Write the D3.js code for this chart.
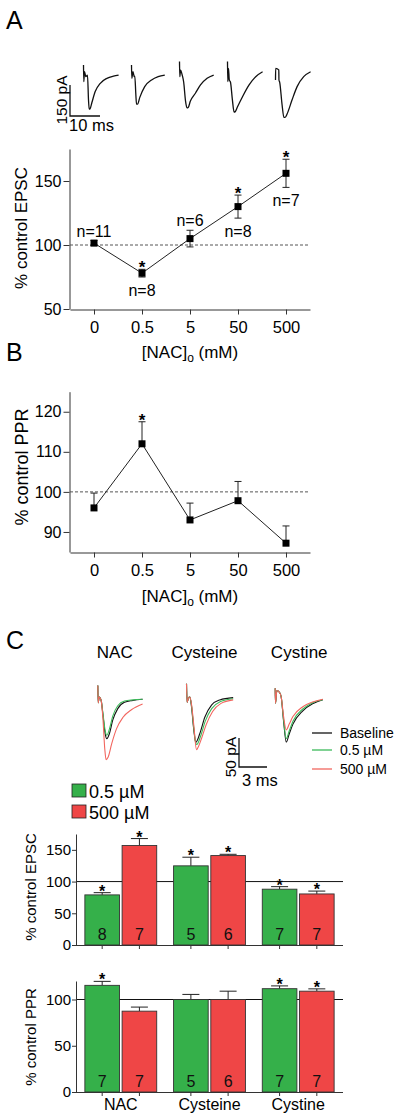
<!DOCTYPE html>
<html><head><meta charset="utf-8">
<script src="https://cdn.jsdelivr.net/npm/d3@7"></script>
<style>body{margin:0;background:#fff} svg{display:block;font-family:"Liberation Sans",Arial,sans-serif}</style>
</head><body><svg id="c" width="400" height="1120"></svg>
<script>
// ---------- DATA ----------
const concentrations = ["0", "0.5", "5", "50", "500"];
const epscMean = [101.5, 78, 105, 130, 156];
const epscErr = [2, 3, 6.5, 9, 11];
const epscN = ["n=11", "n=8", "n=6", "n=8", "n=7"];
const epscNSide = ["above", "below", "above", "below", "below"];
const epscSig = [false, true, false, true, true];
const pprMean = [96, 112, 93, 97.8, 87.2];
const pprErr = [3.7, 5.5, 4.2, 4.8, 4.3];
const pprSig = [false, true, false, false, false];

// example EPSC traces for panel A, [ms, pA]
const tracesA = [
  [[0,43],[0.1,-37],[0.33,11],[0.78,-13],[1.33,-5],[1.67,-126],[1.9,-170],[2.2,-168],[2.8,-138],[3.9,-85],[5.6,-45],[7.8,-21],[10,-10],[11.7,-5]],
  [[0,43],[0.1,-21],[0.5,11],[0.9,-13],[1.1,-10],[1.45,-100],[1.67,-146],[2.0,-146],[2.8,-112],[4.4,-61],[6.7,-29],[8.9,-13],[11.1,-5]],
  [[0,60],[0.1,-13],[0.35,19],[0.9,-5],[1.4,-40],[2.0,-130],[2.5,-164],[2.9,-162],[3.6,-132],[5.3,-93],[7.0,-53],[9.2,-21],[11.4,-5]],
  [[0,60],[0.1,-37],[0.33,27],[0.6,-29],[1.0,-40],[1.6,-120],[2.2,-184],[2.6,-182],[3.3,-160],[5.0,-110],[7.2,-53],[9.4,-13],[11.7,11]],
  [[0,-29],[0.05,27],[1.1,19],[1.15,-29],[1.4,-40],[2.2,-150],[2.8,-210],[3.2,-210],[3.9,-192],[5.5,-126],[7.2,-61],[9.4,-13],[11.7,11]]
];

const groups = ["NAC", "Cysteine", "Cystine"];
const doses = ["0.5 \u00B5M", "500 \u00B5M"];
const epscLow = [79, 124.8, 88];
const epscLowErr = [3.5, 13.6, 4];
const epscHigh = [156.8, 141, 80.5];
const epscHighErr = [11, 2, 4.5];
const epscLowN = [8, 5, 7];
const epscHighN = [7, 6, 7];
const epscLowSig = [true, true, true];
const epscHighSig = [true, true, true];
const pprLow = [115.3, 100, 111.7];
const pprLowErr = [4.3, 5.5, 3];
const pprHigh = [87.4, 100, 109];
const pprHighErr = [4.4, 9, 2.5];
const pprLowN = [7, 5, 7];
const pprHighN = [7, 6, 7];
const pprLowSig = [true, false, true];
const pprHighSig = [false, false, true];

// example traces for panel C, [ms, pA], per compound: baseline, 0.5 uM, 500 uM
const traceLegend = ["Baseline", "0.5 \u00B5M", "500 \u00B5M"];
const tracesC = [
  [ // NAC
    [[0,20],[0.05,-10],[0.15,0],[0.36,-6],[0.54,-29],[0.79,-63],[0.96,-72],[1.25,-63],[1.6,-40],[2.14,-20],[2.86,-9],[3.75,-6],[4.8,-4]],
    [[0,20],[0.05,-10],[0.15,0],[0.36,-6],[0.54,-27],[0.79,-58],[0.96,-66],[1.25,-55],[1.6,-33],[2.14,-15],[2.86,-7],[3.75,-5],[4.8,-4]],
    [[0,20],[0.05,-10],[0.15,0],[0.36,-6],[0.54,-35],[0.75,-90],[0.89,-108],[1.1,-104],[1.5,-80],[2.0,-55],[2.7,-35],[3.6,-22],[4.8,-12]]
  ],
  [ // Cysteine
    [[0,23],[0.07,-9],[0.2,-2],[0.36,0],[0.54,-17],[0.79,-58],[1.0,-78],[1.43,-63],[1.96,-35],[2.68,-14],[3.57,-5],[5.0,-1]],
    [[0,23],[0.07,-9],[0.2,-2],[0.36,0],[0.54,-15],[0.79,-55],[1.0,-80],[1.1,-82],[1.5,-68],[2.0,-42],[2.7,-20],[3.6,-8],[5.0,-3]],
    [[0,23],[0.07,-9],[0.2,-2],[0.36,0],[0.54,-13],[0.79,-50],[1.07,-91],[1.2,-88],[1.6,-72],[2.1,-48],[2.8,-25],[3.7,-11],[5.0,-5]]
  ],
  [ // Cystine
    [[0,17],[0.03,-9],[0.18,13],[0.45,10],[0.64,2],[0.9,-40],[1.18,-76],[1.5,-62],[1.9,-45],[2.96,-22],[4.0,-10],[5.1,-3]],
    [[0,17],[0.03,-9],[0.18,13],[0.45,10],[0.64,2],[0.9,-38],[1.18,-70],[1.5,-57],[1.9,-40],[2.96,-19],[4.0,-8],[5.1,-3]],
    [[0,17],[0.03,-9],[0.18,13],[0.45,10],[0.64,2],[0.9,-32],[1.18,-55],[1.5,-45],[1.9,-32],[2.96,-15],[4.0,-7],[5.1,-2]]
  ]
];

// ---------- DRAW ----------
const svg = d3.select("#c");
const GREEN = "#35b04a", RED = "#ef4646";
const traceColors = ["#111", "#3cba5a", "#f2665f"];
const AX = "#333";

function styleAxis(g, fs) {
  g.selectAll("path, line").attr("stroke", AX);
  g.selectAll("text").attr("font-size", fs).attr("fill", "#000").attr("font-family", "Liberation Sans, Arial, sans-serif");
}
function label(x, y, txt, fs, anchor, rot) {
  const t = svg.append("text").attr("font-size", fs).attr("text-anchor", anchor || "start").text(txt);
  if (rot) t.attr("transform", `translate(${x},${y}) rotate(${rot})`); else t.attr("x", x).attr("y", y);
  return t;
}

// ===== Panel A =====
label(6, 29, "A", 25);
const xA = d3.scalePoint().domain(concentrations).range([70, 310]).padding(0.5);
const yA = d3.scaleLinear().domain([50, 175]).range([309, 149]);

// traces
const tA = d3.scaleLinear().domain([0, 10]).range([0, 30]);
const iA = d3.scaleLinear().domain([0, -150]).range([0, 31]);
const baseA = 74;
tracesA.forEach((tr, i) => {
  const x0 = xA(concentrations[i]) - 10.5;
  svg.append("path").datum(tr)
    .attr("d", d3.line().x(d => x0 + tA(d[0])).y(d => baseA + iA(d[1])).curve(d3.curveMonotoneX))
    .attr("fill", "none").attr("stroke", "#111").attr("stroke-width", 1.3);
});
// scale bar A
svg.append("path").attr("d", `M70,${116 - iA(-150)}V116H${70 + tA(10)}`).attr("fill", "none").attr("stroke", "#111").attr("stroke-width", 1.3);
label(67, 100, "150 pA", 15.5, "middle", -90);
label(69, 131, "10 ms", 16.5);

// axes A
svg.append("g").attr("transform", "translate(69.5,0)")
  .call(d3.axisLeft(yA).tickValues([50, 100, 150]).tickSize(6).tickPadding(2).tickSizeOuter(0))
  .call(g => styleAxis(g, 16));
svg.append("g").attr("transform", "translate(0,309.5)")
  .call(d3.axisBottom(xA).tickSize(5).tickPadding(7).tickSizeOuter(0))
  .call(g => styleAxis(g, 16.5));
const xtA = label(190, 358, "[NAC]", 17, "middle");
xtA.append("tspan").attr("font-size", 12).attr("dy", 4).text("o");
xtA.append("tspan").attr("dy", -4).text(" (mM)");
label(27, 228, "% control EPSC", 17, "middle", -90);

// dashed ref line
svg.append("line").attr("x1", 70).attr("x2", 310).attr("y1", yA(100)).attr("y2", yA(100))
  .attr("stroke", "#555").attr("stroke-dasharray", "3,2").attr("stroke-width", 1);

const ptsA = concentrations.map((c, i) => ({ c, m: epscMean[i], e: epscErr[i], n: epscN[i], side: epscNSide[i], sig: epscSig[i] }));
svg.append("path").datum(ptsA)
  .attr("d", d3.line().x(d => xA(d.c)).y(d => yA(d.m)))
  .attr("fill", "none").attr("stroke", "#222").attr("stroke-width", 1);
const gA = svg.append("g").selectAll("g").data(ptsA).join("g");
gA.append("path").attr("d", d => {
  const x = xA(d.c), t = yA(d.m + d.e), b = yA(d.m - d.e);
  return `M${x},${t}V${b}M${x - 3.5},${t}H${x + 3.5}M${x - 3.5},${b}H${x + 3.5}`;
}).attr("stroke", "#222").attr("fill", "none");
gA.append("rect").attr("x", d => xA(d.c) - 3.5).attr("y", d => yA(d.m) - 3.5).attr("width", 7).attr("height", 7).attr("fill", "#000");
gA.filter(d => d.sig).append("text").attr("x", d => xA(d.c)).attr("y", d => yA(d.m + d.e) + 4)
  .attr("text-anchor", "middle").attr("font-size", 17).attr("font-weight", "bold").text("*");
gA.append("text").attr("x", d => xA(d.c))
  .attr("y", d => d.side === "above" ? yA(d.m + d.e) - 4 : yA(d.m - d.e) + 18.5)
  .attr("text-anchor", "middle").attr("font-size", 16).text(d => d.n);

// ===== Panel B =====
label(6, 361, "B", 25);
const yB = d3.scaleLinear().domain([85, 125]).range([552, 391.7]);
svg.append("g").attr("transform", "translate(69.5,0)")
  .call(d3.axisLeft(yB).tickValues([90, 100, 110, 120]).tickSize(6).tickPadding(2).tickSizeOuter(0))
  .call(g => styleAxis(g, 16));
svg.append("g").attr("transform", "translate(0,552.5)")
  .call(d3.axisBottom(xA).tickSize(5).tickPadding(7).tickSizeOuter(0))
  .call(g => styleAxis(g, 16.5));
const xtB = label(190, 602, "[NAC]", 17, "middle");
xtB.append("tspan").attr("font-size", 12).attr("dy", 4).text("o");
xtB.append("tspan").attr("dy", -4).text(" (mM)");
label(28, 467, "% control PPR", 18, "middle", -90);
svg.append("line").attr("x1", 70).attr("x2", 310).attr("y1", yB(100)).attr("y2", yB(100))
  .attr("stroke", "#555").attr("stroke-dasharray", "3,2").attr("stroke-width", 1);
const ptsB = concentrations.map((c, i) => ({ c, m: pprMean[i], e: pprErr[i], sig: pprSig[i] }));
svg.append("path").datum(ptsB)
  .attr("d", d3.line().x(d => xA(d.c)).y(d => yB(d.m)))
  .attr("fill", "none").attr("stroke", "#222").attr("stroke-width", 1);
const gB = svg.append("g").selectAll("g").data(ptsB).join("g");
gB.append("path").attr("d", d => {
  const x = xA(d.c), t = yB(d.m + d.e), m = yB(d.m);
  return `M${x},${t}V${m}M${x - 3.5},${t}H${x + 3.5}`;
}).attr("stroke", "#222").attr("fill", "none");
gB.append("rect").attr("x", d => xA(d.c) - 3.5).attr("y", d => yB(d.m) - 3.5).attr("width", 7).attr("height", 7).attr("fill", "#000");
gB.filter(d => d.sig).append("text").attr("x", d => xA(d.c)).attr("y", d => yB(d.m + d.e) + 4)
  .attr("text-anchor", "middle").attr("font-size", 17).attr("font-weight", "bold").text("*");

// ===== Panel C =====
label(6, 649, "C", 25);
const xG = d3.scaleBand().domain(groups).range([76, 343]).paddingInner(0.19).paddingOuter(0.1);
const xD = d3.scaleBand().domain(doses).range([0, xG.bandwidth()]).paddingInner(0.07);
const gc = g => xG(g) + xG.bandwidth() / 2;

const titleOff = [-6, -5, 1];
groups.forEach((g, i) => label(gc(g) + titleOff[i], 658, g, 17, "middle"));

const tC = d3.scaleLinear().domain([0, 3]).range([0, 28]);
const iC = d3.scaleLinear().domain([0, -50]).range([0, 29]);
const baseC = [697, 697, 698];
tracesC.forEach((set, gi) => {
  const x0 = gc(groups[gi]) - 23;
  set.forEach((tr, k) => {
    svg.append("path").datum(tr)
      .attr("d", d3.line().x(d => x0 + tC(d[0])).y(d => baseC[gi] + iC(d[1])).curve(d3.curveMonotoneX))
      .attr("fill", "none").attr("stroke", traceColors[k]).attr("stroke-width", 1.1);
  });
});
// scale bar C
svg.append("path").attr("d", `M239,${767 - iC(-50)}V767H${239 + tC(3)}`).attr("fill", "none").attr("stroke", "#111").attr("stroke-width", 1.3);
label(236, 757, "50 pA", 15.5, "middle", -90);
label(242, 786, "3 ms", 16.5);
// trace legend
traceLegend.forEach((t, k) => {
  const y = [733, 750, 769][k];
  svg.append("line").attr("x1", 312).attr("x2", 332).attr("y1", y).attr("y2", y).attr("stroke", traceColors[k]).attr("stroke-width", 1.3);
  label(340, y + 5, t, 14);
});
// bar legend
doses.forEach((d, k) => {
  const y = [784, 805][k];
  svg.append("rect").attr("x", 72).attr("y", y).attr("width", 14).attr("height", 13)
    .attr("fill", k ? RED : GREEN).attr("stroke", "#222").attr("stroke-width", 0.8);
  label(89, y + 14, d, 18);
});

function barChart(yScale, ticks, low, lowErr, high, highErr, lowN, highN, lowSig, highSig, title, titleY, showX) {
  const [y0, y1] = yScale.range();
  svg.append("line").attr("x1", 76).attr("x2", 343).attr("y1", yScale(100)).attr("y2", yScale(100)).attr("stroke", "#111").attr("stroke-width", 1);
  const data = [];
  groups.forEach((g, i) => {
    data.push({ g, d: doses[0], v: low[i], e: lowErr[i], n: lowN[i], s: lowSig[i], c: GREEN });
    data.push({ g, d: doses[1], v: high[i], e: highErr[i], n: highN[i], s: highSig[i], c: RED });
  });
  const bx = d => xG(d.g) + xD(d.d);
  const cx = d => bx(d) + xD.bandwidth() / 2;
  const gb = svg.append("g").selectAll("g").data(data).join("g");
  gb.append("path").attr("d", d => `M${cx(d)},${yScale(d.v)}V${yScale(d.v + d.e)}M${cx(d) - 8.5},${yScale(d.v + d.e)}H${cx(d) + 8.5}`)
    .attr("stroke", "#222").attr("fill", "none");
  gb.append("rect").attr("x", bx).attr("y", d => yScale(d.v)).attr("width", xD.bandwidth()).attr("height", d => y0 - yScale(d.v))
    .attr("fill", d => d.c).attr("stroke", "#333").attr("stroke-width", 0.9);
  gb.filter(d => d.s).append("text").attr("x", cx).attr("y", d => yScale(d.v + d.e) + 4)
    .attr("text-anchor", "middle").attr("font-size", 16).attr("font-weight", "bold").text("*");
  gb.append("text").attr("x", cx).attr("y", y0 - 5).attr("text-anchor", "middle").attr("font-size", 16).attr("fill", "#111").text(d => d.n);
  // axes
  svg.append("g").attr("transform", "translate(76,0)")
    .call(d3.axisLeft(yScale).tickValues(ticks).tickSize(4).tickPadding(1).tickSizeOuter(0))
    .call(g => styleAxis(g, 15));
  svg.append("line").attr("x1", 76).attr("x2", 343).attr("y1", y0 + 0.5).attr("y2", y0 + 0.5).attr("stroke", AX);
  gb.append("line").attr("x1", cx).attr("x2", cx).attr("y1", y0).attr("y2", y0 + 4).attr("stroke", AX);
  label(36, titleY, title, 15, "middle", -90);
  if (showX) groups.forEach(g => label(gc(g), y0 + 18, g, 16, "middle"));
}
const yE = d3.scaleLinear().domain([0, 175]).range([945, 834]);
barChart(yE, [0, 50, 100, 150], epscLow, epscLowErr, epscHigh, epscHighErr, epscLowN, epscHighN, epscLowSig, epscHighSig, "% control EPSC", 887, false);
const yP = d3.scaleLinear().domain([0, 120]).range([1092, 981]);
barChart(yP, [0, 50, 100], pprLow, pprLowErr, pprHigh, pprHighErr, pprLowN, pprHighN, pprLowSig, pprHighSig, "% control PPR", 1037, true);
</script></body></html>
